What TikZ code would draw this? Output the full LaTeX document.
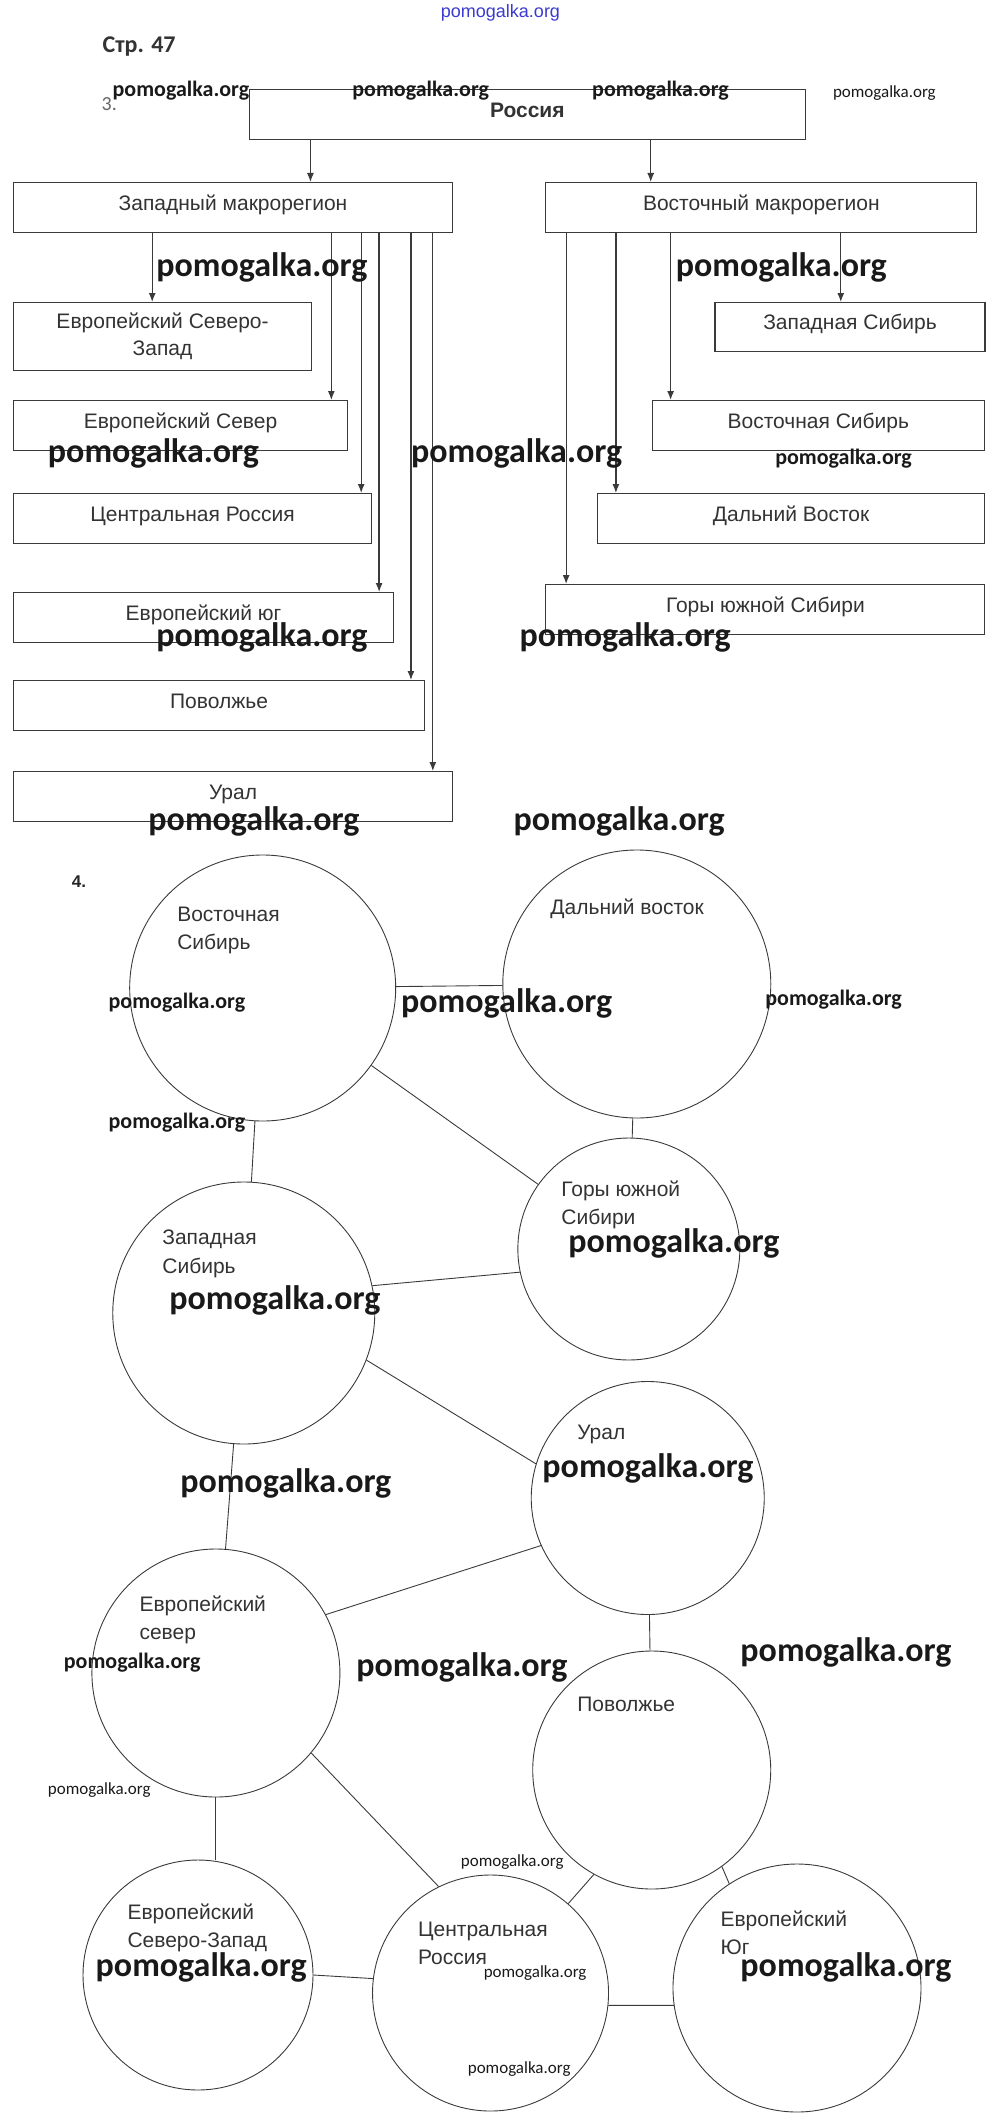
\documentclass[tikz,border=0pt]{standalone}
\usepackage{fontspec}
\setmainfont{Liberation Sans}
\newfontfamily\wmfont{Carlito}
\usetikzlibrary{arrows.meta}

\definecolor{inkgray}{HTML}{333333}
\definecolor{linegray}{HTML}{3A3A3A}
\definecolor{wmblue}{HTML}{3A3AD0}

\begin{document}
\begin{tikzpicture}[
   x=0.995pt, y=-1pt,
   >={Latex[length=9pt,width=7pt]},
   regbox/.style={
      draw=linegray,
      line width=1.2pt,
      anchor=north west,
      inner sep=0pt,
      minimum height=50pt,
      align=center,
      font=\fontsize{21}{27}\selectfont,
      text=inkgray
   },
   oneline/.style={text height=15pt, text depth=10pt},
   arrline/.style={draw=linegray, line width=1.2pt},
   ring/.style={circle, draw=linegray, line width=0.9pt, inner sep=0pt},
   tag/.style={
      anchor=base west,
      align=left,
      inner sep=0pt,
      font=\fontsize{21}{28.5}\selectfont,
      text=inkgray
   },
   link/.style={draw=linegray, line width=0.9pt},
   wmbig/.style={anchor=west, inner sep=0pt, text=black!90,
      font=\wmfont\bfseries\fontsize{34}{34}\selectfont},
   wmmid/.style={anchor=west, inner sep=0pt, text=black!90,
      font=\wmfont\bfseries\fontsize{22}{22}\selectfont},
   wmsmall/.style={anchor=west, inner sep=0pt, text=black!90,
      font=\wmfont\fontsize{17}{17}\selectfont}
]

   \useasboundingbox (0,0) rectangle (1005,2127);

   % Heading
   \node[font=\wmfont\bfseries\fontsize{24}{24}\selectfont, text=inkgray,
      anchor=west, inner sep=0pt] (page) at (103,47) {Стр. 47};
   \node[font=\wmfont\fontsize{20}{20}\selectfont, text=black!60,
      anchor=west, inner sep=0pt] (num3) at (102,104) {3.};

   % Russia
   \node[regbox, oneline, minimum width=556pt,
      font=\bfseries\fontsize{21}{27}\selectfont] (russia) at (250,89) {Россия};

   % Macroregions
   \node[regbox, oneline, minimum width=439pt] (west) at (13,182) {Западный макрорегион};
   \node[regbox, oneline, minimum width=431pt] (east) at (548,182) {Восточный макрорегион};

   % Western regions
   \node[regbox, minimum width=298pt, minimum height=68pt] (enw) at (13,302)
   {
      Европейский Северо-\\
      Запад
   };
   \node[regbox, oneline, minimum width=334pt] (enorth) at (13,400) {Европейский Север};
   \node[regbox, oneline, minimum width=358pt] (central) at (13,493) {Центральная Россия};
   \node[regbox, oneline, minimum width=380pt] (south) at (13,592) {Европейский юг};
   \node[regbox, oneline, minimum width=411pt] (volga) at (13,680) {Поволжье};
   \node[regbox, oneline, minimum width=439pt] (ural) at (13,771) {Урал};

   % Eastern regions
   \node[regbox, oneline, minimum width=270pt, minimum height=49pt] (wsib) at (718,302) {Западная Сибирь};
   \node[regbox, oneline, minimum width=332pt] (esib) at (655,400) {Восточная Сибирь};
   \node[regbox, oneline, minimum width=387pt] (fareast) at (600,493) {Дальний Восток};
   \node[regbox, oneline, minimum width=439pt] (mount) at (548,584) {Горы южной Сибири};

   % Arrows
   \draw[->, arrline] (312,0 |- russia.south) -- (312,0 |- west.north);
   \draw[->, arrline] (654,0 |- russia.south) -- (654,0 |- east.north);

   \foreach \xpos/\dest in {153/enw, 333/enorth, 363/central, 381/south, 413/volga, 435/ural}
      \draw[->, arrline] (\xpos,0 |- west.south) -- (\xpos,0 |- \dest.north);

   \foreach \xpos/\dest in {569/mount, 619/fareast, 674/esib, 845/wsib}
      \draw[->, arrline] (\xpos,0 |- east.south) -- (\xpos,0 |- \dest.north);

   % Task 4
   \node[font=\bfseries\fontsize{17}{17}\selectfont, text=black!85,
      anchor=west, inner sep=0pt] (num4) at (72,882) {4.};

   % Circles
   \node[ring, minimum size=266pt] (c-esib) at (264,988) {};
   \node[ring, minimum size=268pt] (c-feast) at (640,984) {};
   \node[ring, minimum size=222pt] (c-mount) at (632,1249) {};
   \node[ring, minimum size=262pt] (c-wsib) at (245,1313) {};
   \node[ring, minimum size=233pt] (c-ural) at (651,1498) {};
   \node[ring, minimum size=248pt] (c-enorth) at (217,1673) {};
   \node[ring, minimum size=238pt] (c-volga) at (655,1770) {};
   \node[ring, minimum size=230pt] (c-enw) at (199,1975) {};
   \node[ring, minimum size=236pt] (c-central) at (493,1993) {};
   \node[ring, minimum size=248pt] (c-esouth) at (801,1988) {};

   % Circle labels (base = last line)
   \node[tag] (t-esib) at (178,949.5) {Восточная\\Сибирь};
   \node[tag] (t-feast) at (553,914.5) {Дальний восток};
   \node[tag] (t-mount) at (564,1224.5) {Горы южной\\Сибири};
   \node[tag] (t-wsib) at (163,1273) {Западная\\Сибирь};
   \node[tag] (t-ural) at (580,1439.5) {Урал};
   \node[tag] (t-enorth) at (140,1639.5) {Европейский\\север};
   \node[tag] (t-volga) at (580,1711.5) {Поволжье};
   \node[tag] (t-enw) at (128,1947.5) {Европейский\\Северо-Запад};
   \node[tag] (t-central) at (420,1964.5) {Центральная\\Россия};
   \node[tag] (t-esouth) at (724,1954.5) {Европейский\\Юг};

   % Links
   \draw[link] (c-esib) -- (c-feast);
   \draw[link] (c-esib) -- (c-wsib);
   \draw[link] (c-esib) -- (c-mount);
   \draw[link] (c-feast) -- (c-mount);
   \draw[link] (c-wsib.12) -- (c-mount.192);
   \draw[link] (c-wsib.-21) -- (c-ural.163);
   \draw[link] (c-wsib) -- (c-enorth);
   \draw[link] (c-ural.204) -- (c-enorth.28);
   \draw[link] (c-ural) -- (c-volga);
   \draw[link] (c-enorth.south) -- (c-enorth.south |- c-enw.north);
   \draw[link] (c-enorth.-40) -- (c-central.116);
   \draw[link] (c-volga.241) -- (c-central.49);
   \draw[link] (c-volga.-54) -- (c-esouth.123);
   \draw[link] (c-enw.east) -- (c-central.173);
   \draw[link] (c-central.-6) -- (c-esouth.188);

   % Watermarks
   \node[text=wmblue, font=\fontsize{18}{18}\selectfont, inner sep=0pt] (w-top) at (503,13) {pomogalka.org};

   \foreach \xpos/\ypos [count=\i] in {157/267, 679/267, 48/453, 413/453, 157/637, 522/637,
         149/821, 516/821, 403/1003, 571/1243, 170/1300, 545/1468, 181/1483, 358/1667,
         744/1652, 96/1967, 744/1967}
      \node[wmbig] (w-big\i) at (\xpos,\ypos) {pomogalka.org};

   \foreach \xpos/\ypos [count=\i] in {113/91, 354/91, 595/91, 779/459, 109/1003,
         769/1000, 109/1123, 64/1663}
      \node[wmmid] (w-mid\i) at (\xpos,\ypos) {pomogalka.org};

   \foreach \xpos/\ypos [count=\i] in {837/93, 48/1790, 463/1862, 486/1973, 470/2069}
      \node[wmsmall] (w-small\i) at (\xpos,\ypos) {pomogalka.org};

\end{tikzpicture}
\end{document}
